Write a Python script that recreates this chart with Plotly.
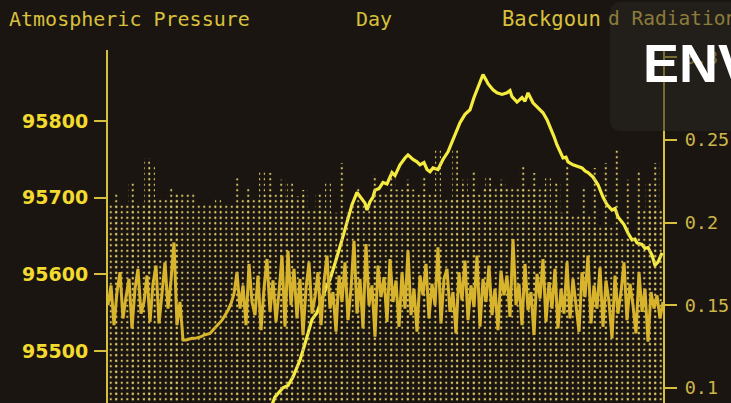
import plotly.graph_objects as go

# ---------------- data ----------------
# Atmospheric pressure (Pa) against sample index through the day
pressure_x = [162, 167, 175, 180, 185, 192, 198, 204, 209, 214, 219, 222, 226, 229, 234, 239, 244, 249, 253, 257,
              259, 262, 265, 267, 271, 275, 279, 284, 287, 292, 297, 300, 305, 309, 312, 316, 319, 322, 325, 330,
              335, 340, 345, 349, 352, 357, 362, 366, 369, 372, 375, 378, 380, 385, 389, 394, 399, 402, 404, 409,
              414, 417, 420, 425, 430, 435, 439, 442, 446, 449, 452, 455, 458, 460, 465, 469, 474, 477, 480, 485,
              490, 495, 499, 504, 507, 510, 513, 516, 520, 524, 527, 529, 534, 537, 540, 544, 547, 550, 554]
pressure = [95423, 95440, 95452, 95455, 95466, 95488, 95514, 95541, 95550, 95567, 95586, 95593, 95609, 95623, 95645,
            95667, 95691, 95707, 95700, 95693, 95684, 95695, 95701, 95710, 95712, 95720, 95718, 95733, 95729, 95743,
            95752, 95756, 95750, 95747, 95743, 95746, 95737, 95734, 95739, 95737, 95750, 95760, 95776, 95789, 95798,
            95809, 95815, 95831, 95841, 95852, 95861, 95854, 95849, 95841, 95837, 95835, 95837, 95840, 95832, 95825,
            95831, 95826, 95837, 95824, 95818, 95811, 95802, 95793, 95780, 95769, 95760, 95752, 95753, 95747, 95743,
            95741, 95739, 95735, 95733, 95727, 95717, 95701, 95691, 95684, 95686, 95675, 95670, 95665, 95654, 95645,
            95646, 95641, 95639, 95634, 95635, 95625, 95612, 95616, 95628]

# Background radiation, one reading every 3 samples (0 .. 555)
radiation = [
    0.150, 0.162, 0.138, 0.158, 0.170, 0.142, 0.155, 0.166, 0.136, 0.160,
    0.172, 0.145, 0.152, 0.168, 0.140, 0.163, 0.174, 0.139, 0.157, 0.176,
    0.148, 0.165, 0.188, 0.138, 0.152,
    0.129, 0.129, 0.1295, 0.130, 0.130, 0.1305, 0.131, 0.132, 0.1325, 0.133,
    0.135, 0.137, 0.139, 0.141, 0.144, 0.147, 0.151, 0.157,
    0.170, 0.148, 0.162, 0.138, 0.175, 0.152, 0.144, 0.168, 0.135, 0.160,
    0.178, 0.146, 0.165, 0.140, 0.158, 0.180, 0.137, 0.183, 0.150, 0.172,
    0.142, 0.166, 0.132, 0.160, 0.176, 0.145, 0.155, 0.170, 0.138, 0.164,
    0.180, 0.148, 0.158, 0.134, 0.168, 0.152, 0.176, 0.141, 0.160, 0.189,
    0.145, 0.166, 0.136, 0.187, 0.150, 0.162, 0.131, 0.174, 0.155, 0.167,
    0.140, 0.178, 0.152, 0.165, 0.137, 0.170, 0.148, 0.183, 0.144, 0.160,
    0.134, 0.168, 0.156, 0.175, 0.142, 0.163, 0.150, 0.185, 0.139, 0.166,
    0.172, 0.146, 0.158, 0.133, 0.170, 0.153, 0.177, 0.141, 0.162, 0.149,
    0.180, 0.137, 0.166, 0.152, 0.174, 0.144, 0.160, 0.135, 0.171, 0.156,
    0.168, 0.143, 0.190, 0.150, 0.163, 0.138, 0.175, 0.147, 0.158, 0.132,
    0.169, 0.154, 0.178, 0.140, 0.164, 0.148, 0.172, 0.136, 0.160, 0.145,
    0.176, 0.142, 0.166, 0.151, 0.134, 0.170, 0.155, 0.180, 0.139, 0.162,
    0.148, 0.173, 0.137, 0.165, 0.152, 0.130, 0.168, 0.145, 0.158, 0.176,
    0.141, 0.163, 0.150, 0.133, 0.170, 0.146, 0.160, 0.128, 0.158, 0.148,
    0.156, 0.142, 0.152,
]
radiation_x = list(range(0, 556, 3))

# Dot-matrix history field: dense envelope per column block
field_x = [11, 33, 55, 77, 99, 121, 143, 165, 187, 209, 231, 253, 275, 297, 319, 341, 363, 385, 407, 429,
           451, 473, 495, 517, 539, 561]
field_top = [0.211, 0.212, 0.214, 0.218, 0.211, 0.211, 0.214, 0.217, 0.216, 0.208, 0.206, 0.211, 0.218, 0.220,
             0.217, 0.214, 0.217, 0.222, 0.221, 0.220, 0.206, 0.205, 0.197, 0.190, 0.208, 0.208]
# isolated taller dot columns
spike_x = [8, 23, 39, 44, 62, 70, 110, 130, 140, 154, 162, 175, 182, 197, 210, 220, 234, 250, 267, 285,
           300, 315, 330, 347, 357, 367, 380, 395, 414, 425, 440, 450, 460, 475, 487, 498, 510, 520, 530,
           540, 549]
spike_top = [0.218, 0.2245, 0.2390, 0.2348, 0.222, 0.216, 0.215, 0.2269, 0.222, 0.2306, 0.2300, 0.226, 0.2239,
             0.2197, 0.218, 0.224, 0.2360, 0.222, 0.2288, 0.230, 0.226, 0.228, 0.2439, 0.2439, 0.226, 0.2318,
             0.228, 0.226, 0.2348, 0.230, 0.2269, 0.224, 0.2348, 0.222, 0.2330, 0.236, 0.2451, 0.226, 0.232,
             0.224, 0.2360]

left_ticks = [95500, 95600, 95700, 95800]
right_ticks = [0.1, 0.15, 0.2, 0.25, 0.3]

assert len(pressure_x) == len(pressure)
assert len(radiation_x) == len(radiation), (len(radiation_x), len(radiation))
assert len(spike_x) == len(spike_top)

# ---------------- style ----------------
BG = '#1a1511'
AXIS = '#d6bf3c'
DOT = '#d9c563'
RAD = '#d8b42c'
PRES = '#f6ec3e'
TITLE = '#d8c03c'
TRANSPARENT = 'rgba(0,0,0,0)'

dot_marker = dict(color=TRANSPARENT, line=dict(width=0),
                  pattern=dict(shape='.', size=5.5, solidity=0.12, fgcolor=DOT,
                               bgcolor=TRANSPARENT, fgopacity=1))

fig = go.Figure()
fig.add_bar(x=field_x, y=field_top, yaxis='y2', width=22, marker=dot_marker, hoverinfo='skip')
fig.add_bar(x=spike_x, y=spike_top, yaxis='y2', width=6, marker=dot_marker, hoverinfo='skip')
fig.add_scatter(x=radiation_x, y=radiation, yaxis='y2', mode='lines',
                line=dict(color=RAD, width=3), hoverinfo='skip')
fig.add_scatter(x=pressure_x, y=pressure, mode='lines',
                line=dict(color=PRES, width=3.2), hoverinfo='skip')

# layout geometry helpers (plot area: x 108..663 px, y 50..403 px)
L, R, T, B = 108, 663, 50, 403
def px(xp):
    return (xp - L) / (R - L)
def py(yp):
    return (B - yp) / (B - T)

bx0, bx1, byt, byb = px(610), px(770), py(2), py(131)
rx, ry = 12 / (R - L), 12 / (B - T)
box_path = (f"M {bx0+rx},{byt} L {bx1},{byt} L {bx1},{byb} L {bx0+rx},{byb} "
            f"Q {bx0},{byb} {bx0},{byb+ry} L {bx0},{byt-ry} Q {bx0},{byt} {bx0+rx},{byt} Z")

mono = 'DejaVu Sans Mono'
fig.update_layout(
    template='none',
    width=731, height=403,
    margin=dict(l=L, r=731 - R, t=T, b=0),
    paper_bgcolor=BG, plot_bgcolor=BG,
    showlegend=False, barmode='overlay',
    xaxis=dict(range=[0, 555], visible=False, fixedrange=True),
    yaxis=dict(range=[95432, 95893], tickvals=left_ticks, tickformat='d', showgrid=False, zeroline=False,
               showline=True, linecolor=AXIS, linewidth=2, ticks='outside', ticklen=12,
               tickwidth=2, tickcolor=AXIS, ticklabelstandoff=2,
               tickfont=dict(family='DejaVu Sans', size=19, color='#f2da2e', weight='bold')),
    yaxis2=dict(range=[0.0909, 0.3044], overlaying='y', side='right', tickvals=right_ticks,
                showgrid=False, zeroline=False, showline=True, linecolor=AXIS, linewidth=2,
                ticks='outside', ticklen=12, tickwidth=2, tickcolor=AXIS, ticklabelstandoff=4,
                tickfont=dict(family=mono, size=18.5, color='#cdb648')),
    shapes=[dict(type='path', path=box_path, xref='paper', yref='paper',
                 fillcolor='rgba(42,40,37,0.55)', line=dict(width=0), layer='above')],
    annotations=[
        dict(text='Atmospheric Pressure', x=px(7), y=py(19), xref='paper', yref='paper',
             xanchor='left', yanchor='middle', showarrow=False,
             font=dict(family=mono, size=20, color=TITLE)),
        dict(text='Day', x=px(374), y=py(19), xref='paper', yref='paper',
             xanchor='center', yanchor='middle', showarrow=False,
             font=dict(family=mono, size=20, color=TITLE)),
        dict(text='Backgoun', x=px(500), y=py(19), xref='paper', yref='paper',
             xanchor='left', yanchor='middle', showarrow=False,
             font=dict(family=mono, size=20.5, color=TITLE)),
        dict(text='d Radiation', x=px(606), y=py(19), xref='paper', yref='paper',
             xanchor='left', yanchor='middle', showarrow=False,
             font=dict(family=mono, size=19.5, color='#8c7c3a')),
        dict(text='<b>ENV</b>', x=px(641), y=py(63), xref='paper', yref='paper',
             xanchor='left', yanchor='middle', showarrow=False,
             font=dict(family='Liberation Sans', size=54, color='#ffffff')),
    ],
)

fig.write_html('out.html', config={'displayModeBar': False},
               post_script="document.body.style.margin='0';document.body.style.overflow='hidden';")
